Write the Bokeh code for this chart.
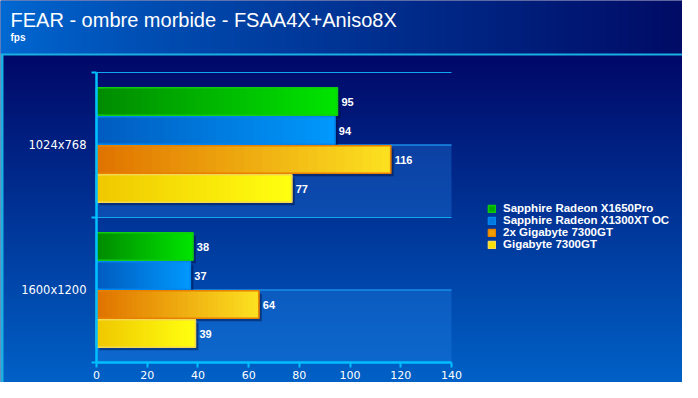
import numpy as np
from bokeh.plotting import figure
from bokeh.models import (Range1d, LinearAxis, FixedTicker, ColumnDataSource,
                          Legend, LegendItem, Label)
from bokeh.core.properties import value
from bokeh.embed import file_html
from bokeh.resources import INLINE

# ---------------- data ----------------
title_text = "FEAR - ombre morbide - FSAA4X+Aniso8X"
unit_text = "fps"
categories = ["1024x768", "1600x1200"]
series_names = ["Sapphire Radeon X1650Pro", "Sapphire Radeon X1300XT OC",
                "2x Gigabyte 7300GT", "Gigabyte 7300GT"]
x1650pro = [95, 38]
x1300xt_oc = [94, 37]
sli_7300gt = [116, 64]
gb_7300gt = [77, 39]
x_ticks = [0, 20, 40, 60, 80, 100, 120, 140]

series_values = [x1650pro, x1300xt_oc, sli_7300gt, gb_7300gt]

# ---------------- style ----------------
# (dark left colour, bright right colour, border, legend fill)
series_style = [
    ((0, 140, 0), (0, 228, 0), "#10cc10", "#00b000"),
    ((0, 92, 192), (0, 152, 252), "#0086ee", "#0078e0"),
    ((224, 116, 0), (252, 224, 32), "#e88000", "#f0a000"),
    ((240, 200, 0), (255, 255, 16), "#f4d850", "#f8e000"),
]
FONT = "DejaVu Sans"
BFONT = "Liberation Sans"
AXIS_COL = "#00c0ff"

W, H = 682, 382
PX0, PX_PER = 96.0, 355.0 / 140.0      # screen x of value 0, px per unit
PY0, PY_PER = 20.0, 145.0              # screen y (from bottom) of baseline, px per category
x_start = -PX0 / PX_PER
x_end = x_start + W / PX_PER
y_start = -PY0 / PY_PER
y_end = y_start + H / PY_PER

ncat = len(categories)
nser = len(series_names)
x_max = x_ticks[-1]
bar_h = 0.19
bar_step = 0.2
N_SLICES = 32

p = figure(width=W, height=H, x_range=Range1d(x_start, x_end),
           y_range=Range1d(y_start, y_end), output_backend="svg",
           toolbar_location=None, min_border=0, x_axis_type=None,
           y_axis_type=None)
p.outline_line_color = None
p.background_fill_color = "#000868"
p.border_fill_color = "#000868"

# ---------------- background gradient ----------------
img = np.zeros((H, W, 4), dtype=np.uint8)
cy = np.arange(H)[:, None] * 1.0
cx = np.arange(W)[None, :] * 1.0
def lerp(c0, c1, t):
    return [c0[k] + (c1[k] - c0[k]) * t for k in range(3)]
t_title = np.clip(cx / 698.0, 0, 1) ** 0.8
t_panel = np.clip((cy - 55.0) / (398.0 - 55.0), 0, 1)
title_rgb = lerp((0, 106, 212), (0, 10, 100), t_title)
panel_rgb = lerp((0, 8, 104), (0, 102, 204), t_panel)
cyan = (26, 176, 226)
for k in range(3):
    panel = np.where(cx < 2.5, cyan[k], panel_rgb[k] * np.ones_like(cx))
    ch = np.where(cy < 53, title_rgb[k] * np.ones_like(cy),
                  np.where(cy < 55, cyan[k], panel))
    img[:, :, k] = ch.astype(np.uint8)
img[:, :, 3] = 255
rgba = np.flipud(img).copy().view(np.uint32).reshape((H, W))
p.image_rgba(image=[rgba], x=x_start, y=y_start, dw=x_end - x_start, dh=y_end - y_start)

# ---------------- bands and lines ----------------
cat_center = [ncat - i - 0.5 for i in range(ncat)]
p.quad(left=[0] * ncat, right=[x_max] * ncat,
       bottom=[c - 0.5 for c in cat_center], top=cat_center,
       fill_color="#2484e8", fill_alpha=0.33, line_color=None)
p.segment(x0=[0] * ncat, x1=[x_max] * ncat, y0=cat_center, y1=cat_center,
          line_color="#1a8ce8", line_width=1.5)
p.segment(x0=[0] * ncat, x1=[x_max] * ncat, y0=[c + 0.5 for c in cat_center],
          y1=[c + 0.5 for c in cat_center], line_color="#10a8f0", line_width=1.2)

# ---------------- bars ----------------
sh_dx = 3.0 / PX_PER
sh_dy = 3.0 / PY_PER
legend_items = []
for j, (name, vals) in enumerate(zip(series_names, series_values)):
    dark, bright, border, mid = series_style[j]
    ys = [c + (nser - 1) / 2 * bar_step - j * bar_step for c in cat_center]
    # shadow
    p.hbar(y=[y - sh_dy for y in ys], left=[sh_dx] * ncat,
           right=[v + sh_dx for v in vals], height=bar_h,
           fill_color="#000a38", fill_alpha=0.45, line_color=None)
    base = p.hbar(y=ys, left=[0] * ncat, right=vals, height=bar_h,
                  fill_color=mid, line_color=border, line_width=1.5)
    legend_items.append(LegendItem(label=name, renderers=[base]))
    # gradient slices
    L, R, Y, C = [], [], [], []
    for v, y in zip(vals, ys):
        for k in range(N_SLICES):
            t = k / (N_SLICES - 1)
            rgb = lerp(dark, bright, t)
            L.append(v * k / N_SLICES)
            R.append(v)
            Y.append(y)
            C.append("#%02x%02x%02x" % tuple(int(round(c)) for c in rgb))
    src = ColumnDataSource(dict(left=L, right=R, y=Y, color=C))
    p.hbar(y="y", left="left", right="right", height=bar_h - 0.006,
           fill_color="color", line_color=None, source=src)
    p.hbar(y=ys, left=[0] * ncat, right=vals, height=bar_h,
           fill_color=None, line_color=border, line_width=1.5)
    p.text(x=vals, y=ys, text=[str(v) for v in vals], x_offset=4,
           text_baseline="middle", text_align="left", text_color="white",
           text_font=value(BFONT), text_font_style="bold", text_font_size="11px")

# ---------------- axes ----------------
xaxis = LinearAxis(fixed_location=0, bounds=(0, x_max),
                   ticker=FixedTicker(ticks=x_ticks))
yaxis = LinearAxis(fixed_location=0, bounds=(0, ncat),
                   ticker=FixedTicker(ticks=list(range(ncat + 1))))
for ax in (xaxis, yaxis):
    ax.axis_line_color = AXIS_COL
    ax.axis_line_width = 2.5
    ax.major_tick_line_color = AXIS_COL
    ax.major_tick_line_width = 2
    ax.major_tick_out = 5
    ax.major_tick_in = 0
    ax.minor_tick_line_color = None
    ax.major_label_text_color = "white"
    ax.major_label_text_font = FONT
    ax.major_label_text_font_size = "11px"
xaxis.major_label_standoff = 3
yaxis.major_label_text_color = None
ylab = LinearAxis(fixed_location=0, ticker=FixedTicker(ticks=cat_center),
                  major_label_overrides={c: cat for c, cat in zip(cat_center, categories)},
                  axis_line_color=None, major_tick_line_color=None,
                  minor_tick_line_color=None, major_label_standoff=4,
                  major_label_text_color="white", major_label_text_font=FONT,
                  major_label_text_font_size="11.5px")
p.add_layout(xaxis, "below")
p.add_layout(yaxis, "left")
p.add_layout(ylab, "left")

# ---------------- legend ----------------
legend = Legend(items=legend_items, location=(487, 132), orientation="vertical",
                background_fill_alpha=0, border_line_color=None,
                label_text_color="white", label_text_font=BFONT,
                label_text_font_style="bold", label_text_font_size="11.5px",
                glyph_width=9, glyph_height=9, label_height=12, spacing=0,
                padding=0, margin=0, label_standoff=7)
p.add_layout(legend)

# ---------------- titles ----------------
p.add_layout(Label(x=10, y=363, x_units="screen", y_units="screen", text=title_text,
                   text_color="white", text_font="Liberation Sans",
                   text_font_size="20px", text_baseline="alphabetic"))
p.add_layout(Label(x=10, y=345, x_units="screen", y_units="screen", text=unit_text,
                   text_color="white", text_font="Liberation Sans",
                   text_font_style="bold", text_font_size="10px",
                   text_baseline="alphabetic"))

open("out.html", "w").write(file_html(p, INLINE))
